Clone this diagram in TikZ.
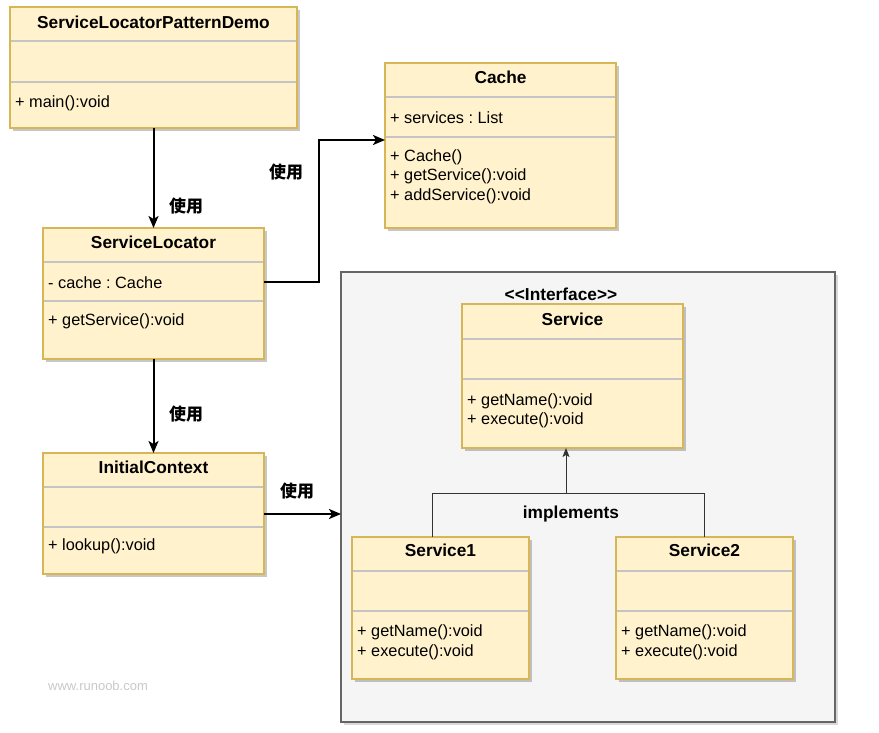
\documentclass[tikz,border=0pt]{standalone}
\usepackage{fontspec}
\setmainfont{Liberation Sans}
\newfontfamily\cjk{Noto Sans CJK SC}
\usetikzlibrary{arrows.meta,shadows,calc}
\frenchspacing
\definecolor{clsfill}{HTML}{FFF2CC}
\definecolor{clsdraw}{HTML}{D6B656}
\definecolor{sepgray}{HTML}{C4C4C4}
\definecolor{grpfill}{HTML}{F5F5F5}
\definecolor{grpdraw}{HTML}{666666}
\definecolor{wmgray}{HTML}{C8C8C8}
\tikzset{
  cls/.style={draw=clsdraw, fill=clsfill, line width=2pt, anchor=north west, inner sep=0pt, outer sep=0pt,
    drop shadow={shadow xshift=3pt, shadow yshift=-3pt, fill=black, opacity=0.22}},
  grp/.style={draw=grpdraw, fill=grpfill, line width=1.6pt, anchor=north west, inner sep=0pt, outer sep=0pt,
    drop shadow={shadow xshift=3pt, shadow yshift=-3pt, fill=black, opacity=0.15}},
  sepline/.style={draw=sepgray, line width=1.2pt, shorten <=1pt, shorten >=1pt},
  ttl/.style={font=\fontsize{17.3}{20}\selectfont\bfseries, inner sep=0pt},
  mem/.style={font=\fontsize{16.3}{19.6}\selectfont, anchor=west, inner sep=0pt, yshift=-1pt},
  uselbl/.style={font=\fontsize{17}{20}\selectfont\cjk\bfseries, inner sep=0pt},
  usearrow/.style={line width=2pt, -{Stealth[length=12pt,width=10pt,inset=3pt]}},
  impl/.style={draw=black!80, line width=1pt},
}
\begin{document}
\begin{tikzpicture}[x=1pt,y=-1pt]
\useasboundingbox (0,0) rectangle (879,733);

% container
\node[grp, minimum width=494pt, minimum height=450pt] (grp) at (341,272) {};

% ServiceLocatorPatternDemo
\node[cls, minimum width=287pt, minimum height=121pt] (demo) at (10,7) {};
\draw[sepline] ([yshift=-34pt]demo.north west) -- ([yshift=-34pt]demo.north east);
\draw[sepline] ([yshift=-75pt]demo.north west) -- ([yshift=-75pt]demo.north east);
\node[ttl] (demo-t) at ([yshift=-15pt]demo.north) {ServiceLocatorPatternDemo};
\node[mem] (demo-m) at ([xshift=5pt,yshift=-95pt]demo.north west) {+ main():void};

% Cache
\node[cls, minimum width=231pt, minimum height=165pt] (cache) at (385,63) {};
\draw[sepline] ([yshift=-34pt]cache.north west) -- ([yshift=-34pt]cache.north east);
\draw[sepline] ([yshift=-74pt]cache.north west) -- ([yshift=-74pt]cache.north east);
\node[ttl] (cache-t) at ([yshift=-14pt]cache.north) {Cache};
\node[mem] (cache-a) at ([xshift=5pt,yshift=-54pt]cache.north west) {+ services : List};
\node[mem] (cache-m1) at ([xshift=5pt,yshift=-93pt]cache.north west) {+ Cache()};
\node[mem] (cache-m2) at ([xshift=5pt,yshift=-112pt]cache.north west) {+ getService():void};
\node[mem] (cache-m3) at ([xshift=5pt,yshift=-132pt]cache.north west) {+ addService():void};

% ServiceLocator
\node[cls, minimum width=221pt, minimum height=131pt] (sl) at (43,228) {};
\draw[sepline] ([yshift=-34pt]sl.north west) -- ([yshift=-34pt]sl.north east);
\draw[sepline] ([yshift=-73pt]sl.north west) -- ([yshift=-73pt]sl.north east);
\node[ttl] (sl-t) at ([yshift=-14pt]sl.north) {ServiceLocator};
\node[mem] (sl-a) at ([xshift=5pt,yshift=-54pt]sl.north west) {- cache : Cache};
\node[mem] (sl-m) at ([xshift=5pt,yshift=-92pt]sl.north west) {+ getService():void};

% InitialContext
\node[cls, minimum width=221pt, minimum height=121pt] (ic) at (43,453) {};
\draw[sepline] ([yshift=-34pt]ic.north west) -- ([yshift=-34pt]ic.north east);
\draw[sepline] ([yshift=-74pt]ic.north west) -- ([yshift=-74pt]ic.north east);
\node[ttl] (ic-t) at ([yshift=-14pt]ic.north) {InitialContext};
\node[mem] (ic-m) at ([xshift=5pt,yshift=-92pt]ic.north west) {+ lookup():void};

% Service (interface)
\node[ttl] (iface) at (561,294) {\symbol{60}\symbol{60}Interface\symbol{62}\symbol{62}};
\node[cls, minimum width=221pt, minimum height=144pt] (svc) at (462,304) {};
\draw[sepline] ([yshift=-35pt]svc.north west) -- ([yshift=-35pt]svc.north east);
\draw[sepline] ([yshift=-75pt]svc.north west) -- ([yshift=-75pt]svc.north east);
\node[ttl] (svc-t) at ([yshift=-15pt]svc.north) {Service};
\node[mem] (svc-m1) at ([xshift=5pt,yshift=-96pt]svc.north west) {+ getName():void};
\node[mem] (svc-m2) at ([xshift=5pt,yshift=-115pt]svc.north west) {+ execute():void};

% Service1
\node[cls, minimum width=177pt, minimum height=142pt] (s1) at (352,537) {};
\draw[sepline] ([yshift=-34pt]s1.north west) -- ([yshift=-34pt]s1.north east);
\draw[sepline] ([yshift=-74pt]s1.north west) -- ([yshift=-74pt]s1.north east);
\node[ttl] (s1-t) at ([yshift=-13pt]s1.north) {Service1};
\node[mem] (s1-m1) at ([xshift=5pt,yshift=-94pt]s1.north west) {+ getName():void};
\node[mem] (s1-m2) at ([xshift=5pt,yshift=-114pt]s1.north west) {+ execute():void};

% Service2
\node[cls, minimum width=177pt, minimum height=142pt] (s2) at (616,537) {};
\draw[sepline] ([yshift=-34pt]s2.north west) -- ([yshift=-34pt]s2.north east);
\draw[sepline] ([yshift=-74pt]s2.north west) -- ([yshift=-74pt]s2.north east);
\node[ttl] (s2-t) at ([yshift=-13pt]s2.north) {Service2};
\node[mem] (s2-m1) at ([xshift=5pt,yshift=-94pt]s2.north west) {+ getName():void};
\node[mem] (s2-m2) at ([xshift=5pt,yshift=-114pt]s2.north west) {+ execute():void};

% connectors
\draw[usearrow] (demo.south) -- (sl.north);
\node[uselbl] (l1) at (186,206) {使用};
\draw[usearrow] (sl.south) -- (ic.north);
\node[uselbl] (l2) at (186,414) {使用};
\draw[usearrow] ([yshift=-54pt]sl.north east) -- (319,282) |- ([yshift=-77pt]cache.north west);
\node[uselbl] (l3) at (286,172) {使用};
\coordinate (icout) at ([yshift=-61pt]ic.north east);
\draw[usearrow] (icout) -- (icout -| grp.west);
\node[uselbl] (l4) at (297,491) {使用};

% implements
\coordinate (junc) at (566,493);
\draw[impl] ([xshift=80pt]s1.north west) |- (s2.north |- junc) -- (s2.north);
\draw[impl, -{Stealth[length=9pt,width=7pt,inset=2pt]}] (junc) -- (junc |- svc.south);
\node[ttl] (impl-l) at (571,514) {implements};

% watermark
\node[font=\fontsize{13}{15}\selectfont, text=wmgray, anchor=west, inner sep=0pt] (wm) at (48,686) {www.runoob.com};
\end{tikzpicture}
\end{document}
